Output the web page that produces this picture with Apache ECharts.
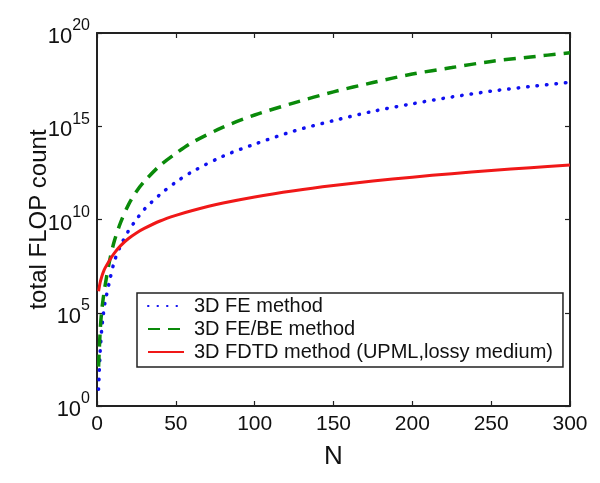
<!DOCTYPE html>
<html><head><meta charset="utf-8">
<script src="https://cdn.jsdelivr.net/npm/echarts@6/dist/echarts.min.js"></script>
<style>html,body{margin:0;padding:0;background:#fff}#c{width:600px;height:483px}</style>
</head><body><div id="c"></div>
<script>
// Problem size N
const N = [1,2,3,4,5,8,11,15,20,25,30,40,50,60,80,100,125,150,175,200,225,250,275,300];
// total FLOP count
const feFlops   = [8e0,8e2,1.3e4,8e4,3.2e5,5e6,5.6e7,4e8,2.5e9,1e10,3.5e10,2.2e11,1e12,3.5e12,2.5e13,1.1e14,5.6e14,2e15,6.3e15,1.6e16,3.7e16,7.6e16,1.35e17,2.3e17];
const febeFlops = [1.3e2,1e4,1.3e5,6.3e5,2.5e6,6.3e7,7e8,7e9,6.3e10,3.2e11,1.1e12,7.9e12,3.5e13,1.3e14,8.9e14,4e15,1.8e16,7e16,2.2e17,6.3e17,1.4e18,3e18,5.2e18,8.7e18];
const fdtdFlops = [1.41e6,4.17e6,8.5e6,1.51e7,2.4e7,6.6e7,1.58e8,3.98e8,9.55e8,1.9e9,3.31e9,8.3e9,1.66e10,2.95e10,7.6e10,1.62e11,3.47e11,6.6e11,1.15e12,1.86e12,2.88e12,4.27e12,6.03e12,8.3e12];
const seriesNames = ['3D FE method','3D FE/BE method','3D FDTD method (UPML,lossy medium)'];
const xTicks = [0,50,100,150,200,250,300];
const yTickExponents = [0,5,10,15,20];

const pair = arr => N.map((n,i)=>[n,arr[i]]);
const font = '"Liberation Sans", Arial, Helvetica, sans-serif';
const axisCol = '#222';
const chart = echarts.init(document.getElementById('c'));
const baseX = {
  type:'value', min:xTicks[0], max:xTicks[xTicks.length-1], interval:xTicks[1]-xTicks[0],
  axisLine:{show:true,onZero:false,lineStyle:{color:axisCol,width:2}},
  axisTick:{show:true,inside:true,length:5,lineStyle:{color:axisCol,width:1.2}},
  splitLine:{show:false}
};
const baseYv = {
  type:'value', min:yTickExponents[0], max:yTickExponents[yTickExponents.length-1],
  interval:yTickExponents[1]-yTickExponents[0],
  axisLine:{show:true,onZero:false,lineStyle:{color:axisCol,width:2}},
  axisTick:{show:true,inside:true,length:5,lineStyle:{color:axisCol,width:1.2}},
  splitLine:{show:false}
};
chart.setOption({
  animation:false,
  backgroundColor:'#fff',
  textStyle:{fontFamily:font},
  grid:{left:97,right:30,top:33,bottom:77,containLabel:false},
  xAxis:[
    Object.assign({}, baseX, {position:'bottom',
      axisLabel:{fontSize:21,color:'#111',margin:8,fontFamily:font},
      name:'N', nameLocation:'middle', nameGap:38, nameMoveOverlap:false,
      nameTextStyle:{fontSize:26,color:'#111',fontFamily:font}}),
    Object.assign({}, baseX, {position:'top', axisLabel:{show:false}})
  ],
  yAxis:[
    {type:'log', logBase:10, min:Math.pow(10,yTickExponents[0]), max:Math.pow(10,yTickExponents[yTickExponents.length-1]), show:false},
    Object.assign({}, baseYv, {position:'left',
      axisLabel:{margin:7, formatter:v=>'{b|10}{s|'+v+'}',
        rich:{b:{fontSize:22,color:'#111',fontFamily:font,verticalAlign:'bottom',lineHeight:30},
              s:{fontSize:16,color:'#111',fontFamily:font,verticalAlign:'top',lineHeight:30}}},
      name:'total FLOP count', nameLocation:'middle', nameGap:46, nameRotate:90, nameMoveOverlap:false,
      nameTextStyle:{fontSize:24,color:'#111',fontFamily:font}}),
    Object.assign({}, baseYv, {position:'right', axisLabel:{show:false}})
  ],
  legend:{
    show:true, left:137, top:293, orient:'vertical',
    backgroundColor:'#fff', borderColor:axisCol, borderWidth:1.5, borderRadius:0,
    padding:[3,10,5,10], itemWidth:36, itemHeight:14, itemGap:3,
    itemStyle:{color:'rgba(0,0,0,0)', borderColor:'rgba(0,0,0,0)', borderWidth:0, opacity:0},
    textStyle:{fontSize:20,color:'#111',fontFamily:font,lineHeight:20,padding:[0,0,0,5]},
    data:seriesNames
  },
  series:[
    {name:seriesNames[0], type:'line', xAxisIndex:0, yAxisIndex:0, data:pair(feFlops),
     symbol:'none', showSymbol:false, smooth:0.3,
     lineStyle:{color:'#1010f0',width:3.5,type:[0.5,9],cap:'round'}, itemStyle:{color:'#1010f0'}, z:3},
    {name:seriesNames[1], type:'line', xAxisIndex:0, yAxisIndex:0, data:pair(febeFlops),
     symbol:'none', showSymbol:false, smooth:0.3,
     lineStyle:{color:'#0a8a0a',width:3.5,type:[12,8]}, itemStyle:{color:'#0a8a0a'}, z:3},
    {name:seriesNames[2], type:'line', xAxisIndex:0, yAxisIndex:0, data:pair(fdtdFlops),
     symbol:'none', showSymbol:false, smooth:0.3,
     lineStyle:{color:'#f01818',width:3,type:'solid'}, itemStyle:{color:'#f01818'}, z:3}
  ]
});
</script></body></html>
